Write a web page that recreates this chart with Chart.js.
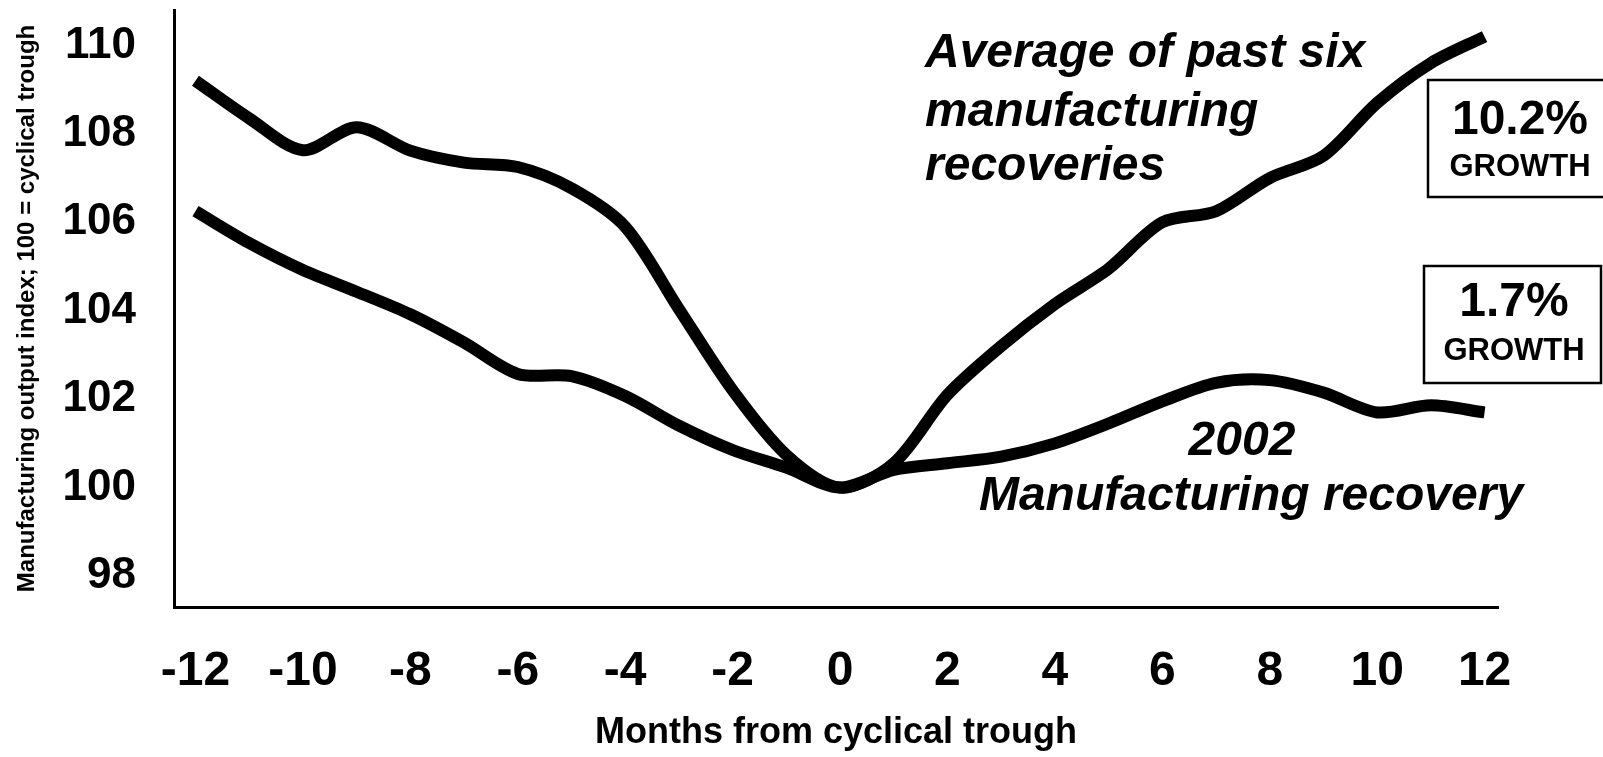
<!DOCTYPE html>
<html>
<head>
<meta charset="utf-8">
<script src="https://cdn.jsdelivr.net/npm/chart.js@4.4.1/dist/chart.umd.min.js"></script>
<style>
  html, body { margin: 0; padding: 0; background: #fff; }
  #wrap { position: relative; width: 1603px; height: 757px; }
</style>
</head>
<body>
<div id="wrap"><canvas id="chart" width="1603" height="757"></canvas></div>
<script>
// months from cyclical trough
const months = [-12, -11, -10, -9, -8, -7, -6, -5, -4, -3, -2, -1, 0,
  1, 2, 3, 4, 5, 6, 7, 8, 9, 10, 11, 12];

// average of past six manufacturing recoveries (100 = trough)
const avgRecovery = [109.2, 108.35, 107.63, 108.15, 107.62, 107.35, 107.25, 106.77, 105.9, 104.04, 102.2, 100.74, 100.0,
  100.55, 102.1, 103.2, 104.15, 104.95, 106.0, 106.25, 107.0, 107.5, 108.7, 109.6, 110.2];

// 2002 manufacturing recovery
const recovery2002 = [106.25, 105.53, 104.92, 104.43, 103.92, 103.28, 102.57, 102.52, 102.07, 101.4, 100.85, 100.45, 100.0,
  100.4, 100.55, 100.7, 101.0, 101.45, 101.95, 102.37, 102.43, 102.15, 101.7, 101.86, 101.7];

const xTicks = [-12, -10, -8, -6, -4, -2, 0, 2, 4, 6, 8, 10, 12];
const yTicks = [98, 100, 102, 104, 106, 108, 110];

const FONT = "'Liberation Sans', Arial, sans-serif";
const NARROW = "'Liberation Sans Narrow', 'Arial Narrow', 'Liberation Sans', sans-serif";

Chart.defaults.color = '#000';
Chart.defaults.font.family = FONT;

// text labels and growth boxes drawn over the chart
const notes = {
  id: 'notes',
  afterDraw(chart) {
    const ctx = chart.ctx;
    ctx.save();
    ctx.fillStyle = '#000';
    ctx.strokeStyle = '#000';
    ctx.textBaseline = 'middle';

    ctx.font = "italic bold 48px " + FONT;
    ctx.textAlign = 'left';
    ctx.fillText('Average of past six', 925, 54);
    ctx.fillText('manufacturing', 925, 113);
    ctx.fillText('recoveries', 925, 167);

    ctx.textAlign = 'center';
    ctx.fillText('2002', 1242, 442);
    ctx.fillText('Manufacturing recovery', 1251, 497);

    ctx.lineWidth = 2.5;
    ctx.strokeRect(1428, 80, 190, 117);
    ctx.strokeRect(1424, 266, 177, 117);

    ctx.font = "bold 48px " + FONT;
    ctx.fillText('10.2%', 1520, 121);
    ctx.fillText('1.7%', 1514, 303);
    ctx.font = "bold 31px " + FONT;
    ctx.fillText('GROWTH', 1520, 167);
    ctx.fillText('GROWTH', 1514, 351);
    ctx.restore();
  }
};

const line = (data) => ({
  data: months.map((m, i) => ({ x: m, y: data[i] })),
  borderColor: '#000',
  borderWidth: 12,
  pointRadius: 0,
  tension: 0.3,
  borderJoinStyle: 'round',
  fill: false
});

new Chart(document.getElementById('chart'), {
  type: 'line',
  data: {
    datasets: [
      Object.assign(line(avgRecovery), { label: 'Average of past six manufacturing recoveries' }),
      Object.assign(line(recovery2002), { label: '2002 Manufacturing recovery' })
    ]
  },
  options: {
    responsive: false,
    animation: false,
    layout: { padding: { top: 10, right: 105, left: 0, bottom: 0 } },
    plugins: { legend: { display: false }, tooltip: { enabled: false } },
    scales: {
      x: {
        type: 'linear',
        min: -12.4,
        max: 12.25,
        afterBuildTicks: (s) => { s.ticks = xTicks.map(v => ({ value: v })); },
        afterFit: (s) => { s.height = 150; s.paddingLeft = 0; s.paddingRight = 0; },
        grid: { display: false, drawTicks: false },
        border: { display: true, color: '#000', width: 3 },
        ticks: { font: { family: NARROW, size: 48, weight: 'bold' }, padding: 36, maxRotation: 0 },
        title: {
          display: true,
          text: 'Months from cyclical trough',
          font: { size: 36, weight: 'bold' },
          padding: { top: 0, bottom: 2 }
        }
      },
      y: {
        min: 97.3,
        max: 110.8,
        afterBuildTicks: (s) => { s.ticks = yTicks.map(v => ({ value: v })); },
        afterFit: (s) => { s.width = 174; s.paddingTop = 0; s.paddingBottom = 0; },
        grid: { display: false, drawTicks: false },
        border: { display: true, color: '#000', width: 3 },
        ticks: { font: { size: 44, weight: 'bold' }, padding: 38 },
        title: {
          display: true,
          text: 'Manufacturing output index; 100 = cyclical trough',
          font: { size: 24, weight: 'bold' },
          padding: { top: 13, bottom: 0 }
        }
      }
    }
  },
  plugins: [notes]
});
</script>
</body>
</html>
